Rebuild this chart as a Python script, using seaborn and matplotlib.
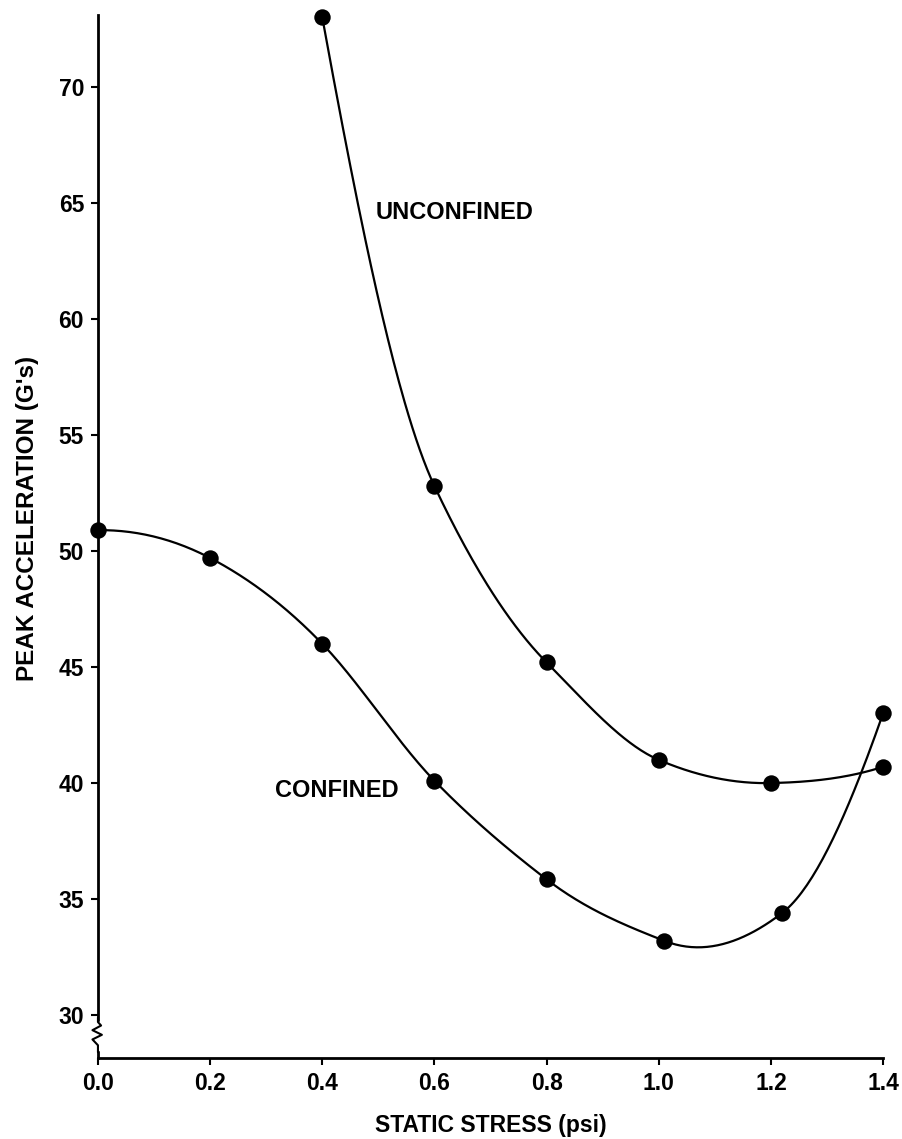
import numpy as np
import pandas as pd
import matplotlib
matplotlib.use('Agg')
import matplotlib.pyplot as plt
import seaborn as sns

# data
confined_x = [0.0, 0.2, 0.4, 0.6, 0.8, 1.01, 1.22, 1.4]
confined_y = [50.9, 49.7, 46.0, 40.1, 35.85, 33.2, 34.4, 43.0]
unconfined_x = [0.4, 0.6, 0.8, 1.0, 1.2, 1.4]
unconfined_y = [73.0, 52.8, 45.2, 41.0, 40.0, 40.7]

x_ticks = [0.0, 0.2, 0.4, 0.6, 0.8, 1.0, 1.2, 1.4]
x_labels = ['0.0', '0.2', '0.4', '0.6', '0.8', '1.0', '1.2', '1.4']
y_ticks = [30, 35, 40, 45, 50, 55, 60, 65, 70]


def akima_curve(xs, ys, n=300):
    # smooth hand-drawn-like curve through the points (Akima interpolation)
    xs = np.asarray(xs, float)
    ys = np.asarray(ys, float)
    h = np.diff(xs)
    m = np.diff(ys) / h
    # two extra secants at each end
    m = np.concatenate([[3 * m[0] - 2 * m[1], 2 * m[0] - m[1]], m,
                        [2 * m[-1] - m[-2], 3 * m[-1] - 2 * m[-2]]])
    w1 = np.abs(m[3:] - m[2:-1])
    w2 = np.abs(m[1:-2] - m[:-3])
    den = w1 + w2
    t = np.where(den > 1e-9,
                 (w1 * m[1:-2] + w2 * m[2:-1]) / np.where(den > 1e-9, den, 1),
                 0.5 * (m[1:-2] + m[2:-1]))
    xx = np.linspace(xs[0], xs[-1], n)
    idx = np.clip(np.searchsorted(xs, xx) - 1, 0, len(xs) - 2)
    s = (xx - xs[idx]) / h[idx]
    h00 = 2 * s ** 3 - 3 * s ** 2 + 1
    h10 = s ** 3 - 2 * s ** 2 + s
    h01 = 1 - h00
    h11 = s ** 3 - s ** 2
    yy = (h00 * ys[idx] + h10 * h[idx] * t[idx]
          + h01 * ys[idx + 1] + h11 * h[idx] * t[idx + 1])
    return pd.DataFrame({'x': xx, 'y': yy})


sns.set_style('ticks')
plt.rcParams['font.family'] = ['Liberation Sans', 'DejaVu Sans']
plt.rcParams['font.weight'] = 'bold'
plt.rcParams['text.color'] = 'black'
plt.rcParams['axes.labelcolor'] = 'black'

fig = plt.figure(figsize=(9.02, 11.39), dpi=100)
ax = fig.add_axes([0.1086, 0.0711, 0.8704, 0.9157])

conf = pd.DataFrame({'x': confined_x, 'y': confined_y})
unconf = pd.DataFrame({'x': unconfined_x, 'y': unconfined_y})

for pts in (conf, unconf):
    curve = akima_curve(pts['x'], pts['y'])
    sns.lineplot(data=curve, x='x', y='y', ax=ax, color='black', lw=1.6,
                 estimator=None, sort=False, clip_on=False)
    sns.scatterplot(data=pts, x='x', y='y', ax=ax, color='black', s=140,
                    edgecolor='black', linewidth=0, zorder=5, clip_on=False)

ax.set_xlim(0, 1.4)
ax.set_ylim(28.15, 73.1)
ax.set_xticks(x_ticks)
ax.set_xticklabels(x_labels)
ax.set_yticks(y_ticks)
ax.tick_params(axis='both', direction='out', length=5, width=1.5,
               labelsize=16.5, colors='black')
ax.tick_params(axis='y', pad=5)
ax.tick_params(axis='x', pad=5)
sns.despine(ax=ax)
for s in ('left', 'bottom'):
    ax.spines[s].set_linewidth(2)
    ax.spines[s].set_color('black')

ax.set_xlabel('STATIC STRESS (psi)', fontsize=16.5, fontweight='bold', labelpad=14)
ax.set_ylabel("PEAK ACCELERATION (G's)", fontsize=17.5, fontweight='bold', labelpad=14)
ax.yaxis.label.set_y(0.517)

ax.text(0.496, 64.6, 'UNCONFINED', fontsize=17, fontweight='bold', va='center')
ax.text(0.316, 39.7, 'CONFINED', fontsize=17, fontweight='bold', va='center')

# axis break on the y spine
tr = ax.get_yaxis_transform()
ax.plot([0, 0], [28.55, 29.6], color='white', lw=4, transform=tr, clip_on=False, zorder=6)
ax.plot([0, 0, -0.007, 0.005, -0.007, 0.004, 0, 0],
        [28.4, 28.7, 28.95, 29.15, 29.35, 29.55, 29.7, 29.9],
        color='black', lw=1.5, transform=tr, clip_on=False, zorder=7)

fig.savefig('out.png', dpi=100, facecolor='white')
